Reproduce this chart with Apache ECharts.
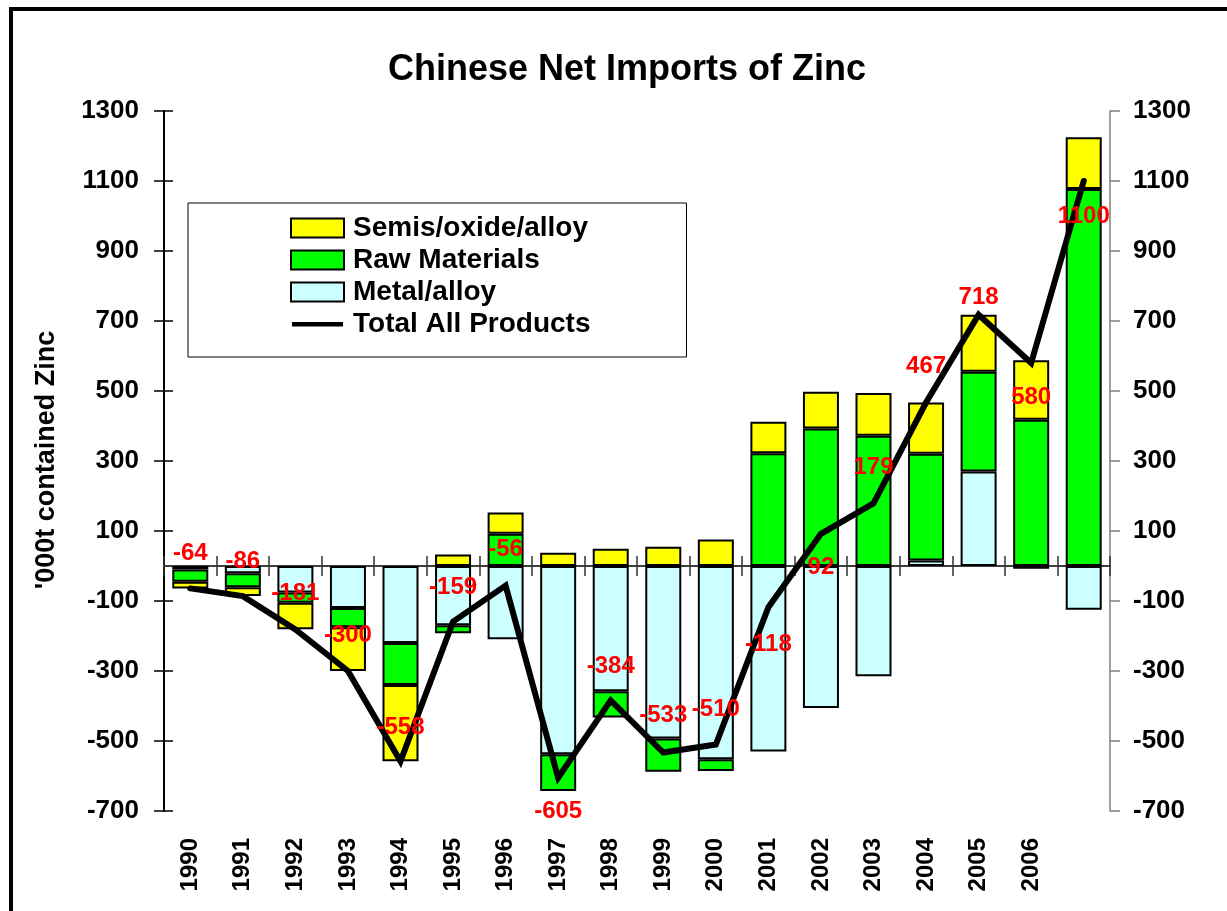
<!DOCTYPE html>
<html>
<head>
<meta charset="utf-8">
<script src="https://cdn.jsdelivr.net/npm/echarts@6/dist/echarts.min.js"></script>
<style>
  html, body { margin: 0; padding: 0; background: #fff; }
  #chart { width: 1227px; height: 911px; }
</style>
</head>
<body>
<div id="chart"></div>
<script>
// Categories (the final bar carries no year label)
const years = ['1990', '1991', '1992', '1993', '1994', '1995', '1996', '1997', '1998',
               '1999', '2000', '2001', '2002', '2003', '2004', '2005', '2006', ''];

// Net imports by product group, '000t contained zinc
const metalAlloy   = [-10, -21, -76, -120, -220, -169, -209, -538, -358, -493, -552, -530, -406, -315, 16, 270, -8, -125];
const rawMaterials = [-35, -40, -29, -55, -120, -23, 92, -105, -75, -95, -34, 322, 393, 372, 305, 285, 418, 1077];
const semisOxide   = [-19, -25, -76, -125, -218, 33, 61, 38, 49, 55, 76, 90, 105, 122, 146, 163, 170, 148];
const totalAll     = [-64, -86, -181, -300, -558, -159, -56, -605, -384, -533, -510, -118, 92, 179, 467, 718, 580, 1100];

// Vertical shift (px) of each total label from its point
const labelShift = [-35, -35, -36, -36, -34, -34, -36, 34, -34, -37, -35, 37, 34, -36, -36, -17, 34, 35];

const FONT = 'Liberation Sans, Arial, Helvetica, sans-serif';
const axisRange = { min: -700, max: 1300, interval: 200 };
const plainNumber = (v) => String(v);

const chart = echarts.init(document.getElementById('chart'), null, { renderer: 'canvas' });

const barBorder = { borderColor: '#000', borderWidth: 2 };

chart.setOption({
  animation: false,
  backgroundColor: '#fff',
  title: {
    text: 'Chinese Net Imports of Zinc',
    left: 622,
    top: 47,
    textAlign: 'center',
    textStyle: { fontFamily: FONT, fontSize: 36, fontWeight: 'bold', color: '#000' }
  },
  graphic: [
    {
      type: 'rect',
      z: -10,
      shape: { x: 11, y: 9, width: 1400, height: 1100 },
      style: { fill: 'none', stroke: '#000', lineWidth: 4 }
    },
    {
      type: 'text',
      x: 47,
      y: 460,
      rotation: Math.PI / 2,
      style: {
        text: "'000t contained Zinc",
        font: 'bold 27px ' + FONT,
        fill: '#000',
        textAlign: 'center',
        textVerticalAlign: 'middle'
      }
    }
  ],
  legend: {
    orient: 'vertical',
    left: 188,
    top: 203,
    selectedMode: false,
    itemWidth: 53,
    itemHeight: 19,
    itemGap: 4,
    padding: [11, 96, 19, 102],
    borderColor: '#000',
    borderWidth: 1,
    textStyle: { fontFamily: FONT, fontSize: 28, fontWeight: 'bold', color: '#000', lineHeight: 28, padding: [0, 0, 0, 4] },
    data: [
      { name: 'Semis/oxide/alloy', icon: 'rect' },
      { name: 'Raw Materials', icon: 'rect' },
      { name: 'Metal/alloy', icon: 'rect' },
      {
        name: 'Total All Products',
        icon: 'path://M0,0L0.02,0L0,0.02Z M1,7.5L52,7.5L52,12L1,12Z M53,19L52.98,19L53,18.98Z',
        itemStyle: { color: '#000', borderWidth: 0 }
      }
    ]
  },
  grid: { left: 164, right: 117, top: 111, bottom: 100, outerBoundsMode: 'none', containLabel: false },
  xAxis: [
    {
      type: 'category',
      data: years,
      position: 'bottom',
      axisLine: { show: false, onZero: false },
      axisTick: { show: false },
      axisLabel: {
        interval: 0,
        rotate: 90,
        margin: 27,
        fontFamily: FONT,
        fontSize: 24,
        fontWeight: 'bold',
        color: '#000'
      },
      splitLine: { show: false }
    },
    {
      type: 'category',
      data: years,
      position: 'bottom',
      axisLine: { show: true, onZero: true, onZeroAxisIndex: 0, lineStyle: { color: '#333', width: 1.5 } },
      axisTick: { show: true, interval: 0, length: 10, inside: false, lineStyle: { color: '#333', width: 1.5 } },
      axisLabel: { show: false },
      splitLine: { show: false }
    },
    {
      type: 'category',
      data: years,
      position: 'top',
      axisLine: { show: true, onZero: true, onZeroAxisIndex: 0, lineStyle: { color: '#333', width: 1.5 } },
      axisTick: { show: true, interval: 0, length: 10, inside: false, lineStyle: { color: '#333', width: 1.5 } },
      axisLabel: { show: false },
      splitLine: { show: false }
    }
  ],
  yAxis: [
    {
      type: 'value',
      position: 'left',
      ...axisRange,
      axisLine: { show: true, onZero: false, lineStyle: { color: '#000', width: 2 } },
      axisTick: { show: true, length: 10, inside: false, lineStyle: { color: '#000', width: 1.5 } },
      axisLabel: { margin: 25, formatter: plainNumber, fontFamily: FONT, fontSize: 26, fontWeight: 'bold', color: '#000' },
      splitLine: { show: false }
    },
    {
      type: 'value',
      position: 'left',
      offset: 0,
      ...axisRange,
      axisLine: { show: false, onZero: false },
      axisTick: { show: true, length: 9, inside: true, lineStyle: { color: '#000', width: 1.5 } },
      axisLabel: { show: false },
      splitLine: { show: false }
    },
    {
      type: 'value',
      position: 'right',
      ...axisRange,
      axisLine: { show: true, onZero: false, lineStyle: { color: '#808080', width: 1.5 } },
      axisTick: { show: true, length: 10, inside: false, lineStyle: { color: '#808080', width: 1.5 } },
      axisLabel: { margin: 23, formatter: plainNumber, fontFamily: FONT, fontSize: 26, fontWeight: 'bold', color: '#000' },
      splitLine: { show: false }
    }
  ],
  series: [
    {
      name: 'Metal/alloy',
      type: 'bar',
      stack: 'zinc',
      barWidth: 36,
      xAxisIndex: 0,
      yAxisIndex: 0,
      data: metalAlloy,
      itemStyle: { color: '#CCFFFF', ...barBorder }
    },
    {
      name: 'Raw Materials',
      type: 'bar',
      stack: 'zinc',
      barWidth: 36,
      xAxisIndex: 0,
      yAxisIndex: 0,
      data: rawMaterials,
      itemStyle: { color: '#00FF00', ...barBorder }
    },
    {
      name: 'Semis/oxide/alloy',
      type: 'bar',
      stack: 'zinc',
      barWidth: 36,
      xAxisIndex: 0,
      yAxisIndex: 0,
      data: semisOxide,
      itemStyle: { color: '#FFFF00', ...barBorder }
    },
    {
      name: 'Total All Products',
      type: 'line',
      xAxisIndex: 0,
      yAxisIndex: 0,
      z: 5,
      symbol: 'circle',
      symbolSize: 1,
      showSymbol: true,
      itemStyle: { color: '#000' },
      lineStyle: { color: '#000', width: 6, cap: 'round', join: 'miter' },
      label: {
        show: true,
        position: 'inside',
        fontFamily: FONT,
        fontSize: 24,
        fontWeight: 'bold',
        color: '#FF0000'
      },
      data: totalAll.map((v, i) => ({ value: v, label: { offset: [0, labelShift[i]] } }))
    }
  ]
});
</script>
</body>
</html>
